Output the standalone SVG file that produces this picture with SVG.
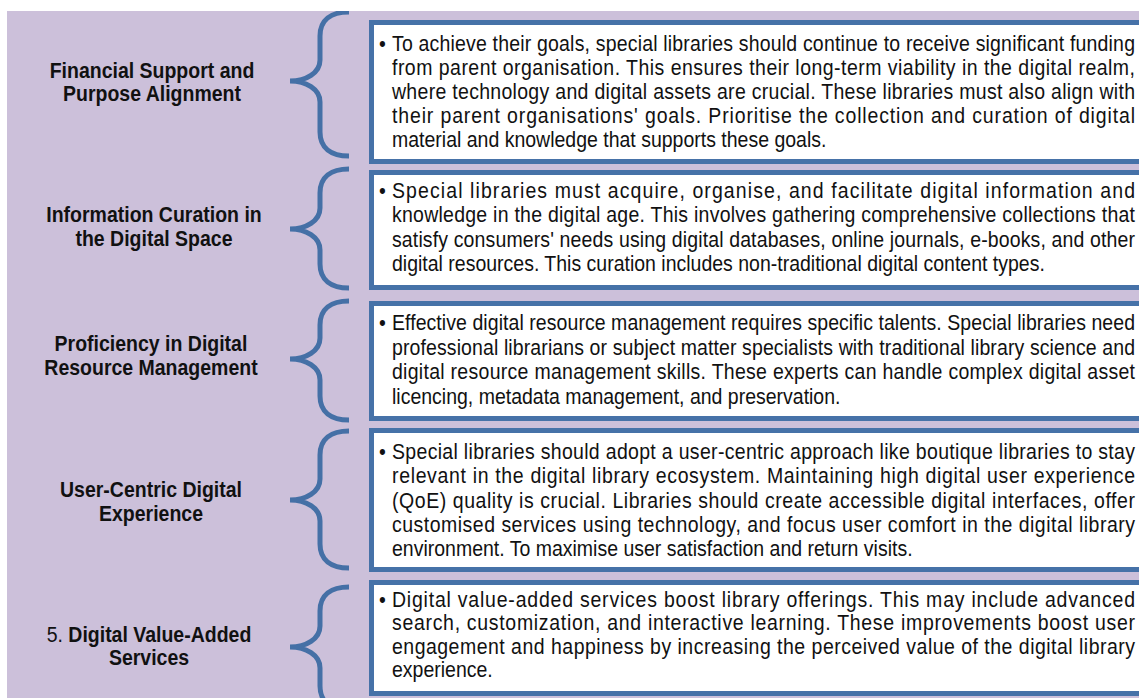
<svg xmlns="http://www.w3.org/2000/svg" width="1139" height="699" viewBox="0 0 1139 699">
<style>
.bg{fill:#CCC0DA}
.box{fill:#FFFFFF;stroke:#4672A8;stroke-width:5}
.brace{fill:none;stroke:#4570A6;stroke-width:5}
.t{font-family:"Liberation Sans",Arial,sans-serif;font-size:19.5px;fill:#111}
.title{font-family:"Liberation Sans",Arial,sans-serif;font-size:19.5px;font-weight:bold;fill:#111;text-anchor:middle}
</style>
<defs>
<clipPath id="clipbg"><rect x="7" y="11" width="1132" height="687"/></clipPath>
</defs>
<rect class="bg" x="7" y="11" width="1132" height="687"/>
<g id="connectors" clip-path="url(#clipbg)">
<path class="brace" d="M349,12 C331,12 320,20 320,36 L320,60 C320,73 306,81 290,81 C306,81 320,89 320,102 L320,132 C320,148 331,156 349,156"/>
<path class="brace" d="M349,169 C331,169 320,177 320,193 L320,208 C320,221 306,229 290,229 C306,229 320,237 320,250 L320,264 C320,280 331,288 349,288"/>
<path class="brace" d="M349,301 C331,301 320,309 320,325 L320,338 C320,351 306,359 290,359 C306,359 320,367 320,380 L320,396 C320,412 331,420 349,420"/>
<path class="brace" d="M349,431 C331,431 320,439 320,455 L320,479 C320,492 306,500 290,500 C306,500 320,508 320,521 L320,544 C320,560 331,568 349,568"/>
<path class="brace" d="M349,587 C331,587 320,595 320,611 L320,626 C320,639 306,647 290,647 C306,647 320,655 320,668 L320,686 C320,702 331,710 349,710"/>
</g>
<g id="node1">
<text class="title" x="152" y="78" transform="matrix(1,0,0,1.1,0,-7.8)">Financial Support and</text>
<text class="title" x="152" y="101" transform="matrix(1,0,0,1.1,0,-10.1)">Purpose Alignment</text>
<rect class="box" x="371.5" y="22.5" width="790" height="139"/>
<text class="t" x="379" y="51" transform="matrix(1,0,0,1.1,0,-5.1)">•</text>
<text class="t" x="392" y="51" transform="matrix(1,0,0,1.1,0,-5.1)" textLength="743" lengthAdjust="spacing">To achieve their goals, special libraries should continue to receive significant funding</text>
<text class="t" x="392" y="75" transform="matrix(1,0,0,1.1,0,-7.5)" textLength="743" lengthAdjust="spacing">from parent organisation. This ensures their long-term viability in the digital realm,</text>
<text class="t" x="392" y="99" transform="matrix(1,0,0,1.1,0,-9.9)" textLength="743" lengthAdjust="spacing">where technology and digital assets are crucial. These libraries must also align with</text>
<text class="t" x="392" y="123" transform="matrix(1,0,0,1.1,0,-12.3)" textLength="743" lengthAdjust="spacing">their parent organisations' goals. Prioritise the collection and curation of digital</text>
<text class="t" x="392" y="147" transform="matrix(1,0,0,1.1,0,-14.7)">material and knowledge that supports these goals.</text>
</g>
<g id="node2">
<text class="title" x="154" y="222" transform="matrix(1,0,0,1.1,0,-22.2)">Information Curation in</text>
<text class="title" x="154" y="246" transform="matrix(1,0,0,1.1,0,-24.6)">the Digital Space</text>
<rect class="box" x="371.5" y="172.5" width="790" height="115"/>
<text class="t" x="379" y="198" transform="matrix(1,0,0,1.1,0,-19.8)">•</text>
<text class="t" x="392" y="198" transform="matrix(1,0,0,1.1,0,-19.8)" textLength="743" lengthAdjust="spacing">Special libraries must acquire, organise, and facilitate digital information and</text>
<text class="t" x="392" y="222" transform="matrix(1,0,0,1.1,0,-22.2)" textLength="743" lengthAdjust="spacing">knowledge in the digital age. This involves gathering comprehensive collections that</text>
<text class="t" x="392" y="247" transform="matrix(1,0,0,1.1,0,-24.7)" textLength="743" lengthAdjust="spacing">satisfy consumers' needs using digital databases, online journals, e-books, and other</text>
<text class="t" x="392" y="271" transform="matrix(1,0,0,1.1,0,-27.1)">digital resources. This curation includes non-traditional digital content types.</text>
</g>
<g id="node3">
<text class="title" x="151" y="351" transform="matrix(1,0,0,1.1,0,-35.1)">Proficiency in Digital</text>
<text class="title" x="151" y="375" transform="matrix(1,0,0,1.1,0,-37.5)">Resource Management</text>
<rect class="box" x="371.5" y="303.5" width="790" height="115"/>
<text class="t" x="379" y="330" transform="matrix(1,0,0,1.1,0,-33)">•</text>
<text class="t" x="392" y="330" transform="matrix(1,0,0,1.1,0,-33)" textLength="743" lengthAdjust="spacing">Effective digital resource management requires specific talents. Special libraries need</text>
<text class="t" x="392" y="355" transform="matrix(1,0,0,1.1,0,-35.5)" textLength="743" lengthAdjust="spacing">professional librarians or subject matter specialists with traditional library science and</text>
<text class="t" x="392" y="379" transform="matrix(1,0,0,1.1,0,-37.9)" textLength="743" lengthAdjust="spacing">digital resource management skills. These experts can handle complex digital asset</text>
<text class="t" x="392" y="404" transform="matrix(1,0,0,1.1,0,-40.4)">licencing, metadata management, and preservation.</text>
</g>
<g id="node4">
<text class="title" x="151" y="497" transform="matrix(1,0,0,1.1,0,-49.7)">User-Centric Digital</text>
<text class="title" x="151" y="521" transform="matrix(1,0,0,1.1,0,-52.1)">Experience</text>
<rect class="box" x="371.5" y="430.5" width="790" height="139"/>
<text class="t" x="379" y="459" transform="matrix(1,0,0,1.1,0,-45.9)">•</text>
<text class="t" x="392" y="459" transform="matrix(1,0,0,1.1,0,-45.9)" textLength="743" lengthAdjust="spacing">Special libraries should adopt a user-centric approach like boutique libraries to stay</text>
<text class="t" x="392" y="483" transform="matrix(1,0,0,1.1,0,-48.3)" textLength="743" lengthAdjust="spacing">relevant in the digital library ecosystem. Maintaining high digital user experience</text>
<text class="t" x="392" y="508" transform="matrix(1,0,0,1.1,0,-50.8)" textLength="743" lengthAdjust="spacing">(QoE) quality is crucial. Libraries should create accessible digital interfaces, offer</text>
<text class="t" x="392" y="532" transform="matrix(1,0,0,1.1,0,-53.2)" textLength="743" lengthAdjust="spacing">customised services using technology, and focus user comfort in the digital library</text>
<text class="t" x="392" y="556" transform="matrix(1,0,0,1.1,0,-55.6)">environment. To maximise user satisfaction and return visits.</text>
</g>
<g id="node5">
<text class="title" x="149" y="642" transform="matrix(1,0,0,1.1,0,-64.2)"><tspan font-weight="normal">5. </tspan>Digital Value-Added</text>
<text class="title" x="149" y="665" transform="matrix(1,0,0,1.1,0,-66.5)">Services</text>
<rect class="box" x="371.5" y="582.5" width="790" height="111"/>
<text class="t" x="379" y="607" transform="matrix(1,0,0,1.1,0,-60.7)">•</text>
<text class="t" x="392" y="607" transform="matrix(1,0,0,1.1,0,-60.7)" textLength="743" lengthAdjust="spacing">Digital value-added services boost library offerings. This may include advanced</text>
<text class="t" x="392" y="630" transform="matrix(1,0,0,1.1,0,-63)" textLength="743" lengthAdjust="spacing">search, customization, and interactive learning. These improvements boost user</text>
<text class="t" x="392" y="654" transform="matrix(1,0,0,1.1,0,-65.4)" textLength="743" lengthAdjust="spacing">engagement and happiness by increasing the perceived value of the digital library</text>
<text class="t" x="392" y="677" transform="matrix(1,0,0,1.1,0,-67.7)">experience.</text>
</g>
</svg>
